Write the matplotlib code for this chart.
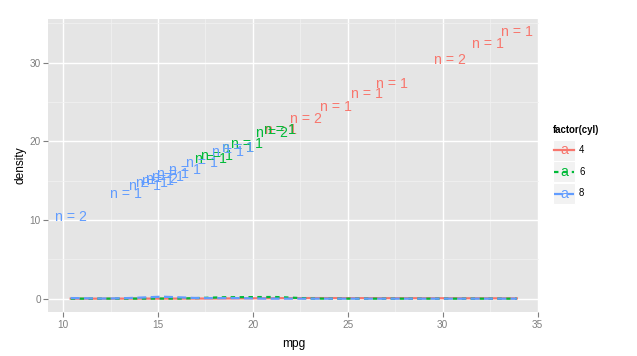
import numpy as np
import matplotlib.pyplot as plt
from matplotlib.patches import Rectangle
from matplotlib.lines import Line2D

plt.rcParams['font.family'] = ['Liberation Sans', 'DejaVu Sans']

# mtcars mpg by number of cylinders (read from the "n = k" labels)
cyl_levels = ['4', '6', '8']
mpg_4 = [22.8, 24.4, 22.8, 32.4, 30.4, 33.9, 21.5, 27.3, 26.0, 30.4, 21.4]
mpg_6 = [21.0, 21.0, 21.4, 18.1, 19.2, 17.8, 19.7]
mpg_8 = [18.7, 14.3, 16.4, 17.3, 15.2, 10.4, 10.4, 14.7, 15.5, 15.2, 13.3,
         19.2, 15.8, 15.0]
groups = [mpg_4, mpg_6, mpg_8]

colors = ['#F8766D', '#00BA38', '#619CFF']
dashes = ['-', (0, (2, 2)), (0, (4, 2))]

W, H = 637, 356


def bw_nrd0(x):
    x = np.asarray(x)
    sd = x.std(ddof=1)
    iqr = np.subtract(*np.percentile(x, [75, 25]))
    lo = min(sd, iqr / 1.34)
    return 0.9 * lo * len(x) ** -0.2


all_mpg = np.concatenate(groups)
grid = np.linspace(all_mpg.min(), all_mpg.max(), 512)

fig = plt.figure(figsize=(W / 100, H / 100), dpi=100)
ax = fig.add_axes([48.4 / W, 1 - 312 / H, (539.1 - 48.4) / W, (312 - 18.7) / H])
ax.set_facecolor('#E5E5E5')

# density lines
for vals, col, ls in zip(groups, colors, dashes):
    v = np.asarray(vals)
    bw = bw_nrd0(v)
    dens = np.exp(-0.5 * ((grid[:, None] - v[None, :]) / bw) ** 2).sum(1)
    dens /= len(v) * bw * np.sqrt(2 * np.pi)
    ax.plot(grid, dens, color=col, linestyle=ls, linewidth=1.6, zorder=3)

# count labels at (mpg, mpg)
for vals, col in zip(groups, colors):
    u, n = np.unique(vals, return_counts=True)
    for xv, k in zip(u, n):
        ax.text(xv, xv, f"n = {k}", color=col, fontsize=10.2,
                ha='center', va='center', zorder=4)

xr = all_mpg.max() - all_mpg.min()
ax.set_xlim(all_mpg.min() - 0.05 * xr, all_mpg.max() + 0.05 * xr)
yr = all_mpg.max()
ax.set_ylim(-0.05 * yr, yr * 1.05)

ax.set_xticks([10, 15, 20, 25, 30, 35])
ax.set_xticks([12.5, 17.5, 22.5, 27.5, 32.5], minor=True)
ax.set_yticks([0, 10, 20, 30])
ax.set_yticks([5, 15, 25, 35], minor=True)
ax.grid(which='major', color='white', linewidth=1.0, zorder=0)
ax.grid(which='minor', color='#F2F2F2', linewidth=0.5, zorder=0)
ax.set_axisbelow(True)
for s in ax.spines.values():
    s.set_visible(False)
ax.tick_params(which='major', length=3.5, color='#7F7F7F', width=0.8,
               labelsize=7.2, labelcolor='#7F7F7F', pad=2)
ax.tick_params(which='minor', length=0)

ax.set_xlabel('mpg', fontsize=8.6, labelpad=6)
ax.set_ylabel('density', fontsize=8.6, labelpad=2)


# legend
def fx(x):
    return x / W


def fy(y):
    return 1 - y / H


fig.text(fx(553), fy(130), 'factor(cyl)', fontsize=6.9, fontweight='bold',
         ha='left', va='center')
key_y = [150.5, 172, 193.5]
for lab, col, ls, yc in zip(cyl_levels, colors, dashes, key_y):
    fig.add_artist(Rectangle((fx(553), fy(yc + 10.5)), 22 / W, 21 / H,
                             transform=fig.transFigure, facecolor='#F2F2F2',
                             edgecolor='white', linewidth=0.8))
    fig.add_artist(Line2D([fx(554), fx(574)], [fy(yc), fy(yc)],
                          transform=fig.transFigure, color=col,
                          linestyle=ls, linewidth=1.6))
    fig.text(fx(564), fy(yc), 'a', color=col, fontsize=10.2,
             ha='center', va='center')
    fig.text(fx(579), fy(yc), lab, fontsize=6.9, ha='left', va='center')

fig.savefig('out.png', dpi=100)
